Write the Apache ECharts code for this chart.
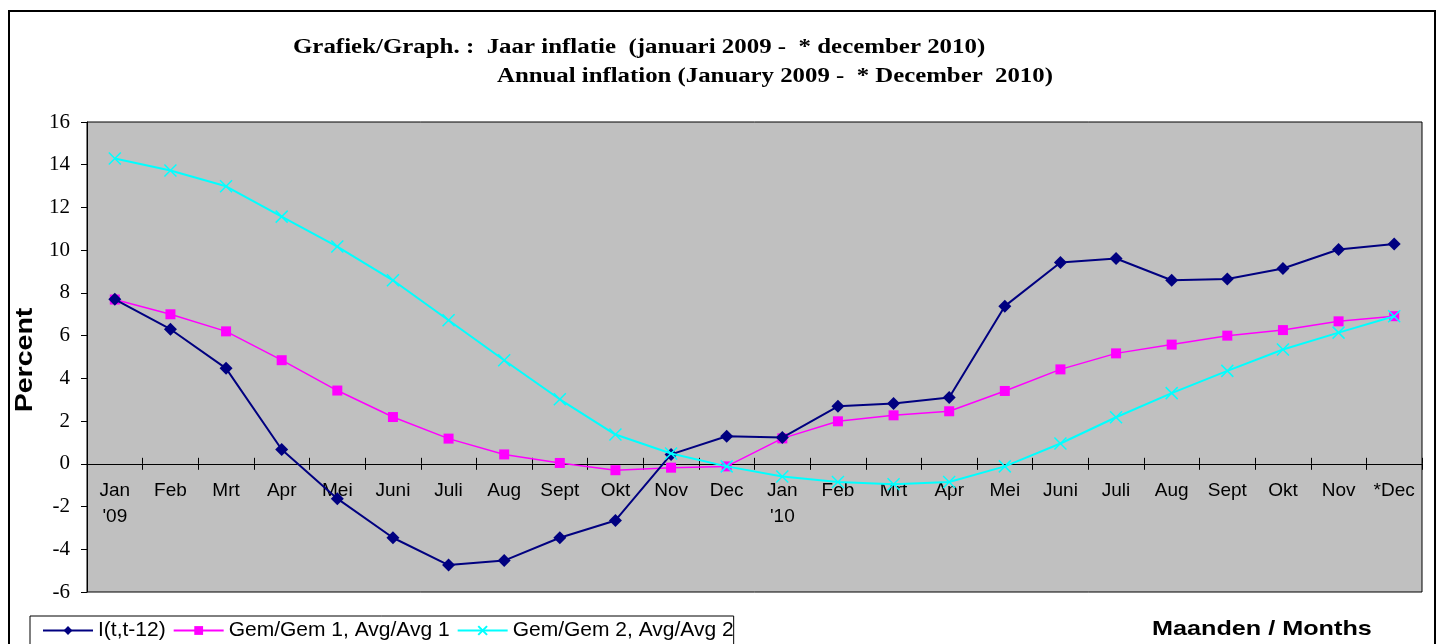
<!DOCTYPE html>
<html><head><meta charset="utf-8">
<script src="https://cdn.jsdelivr.net/npm/echarts@6/dist/echarts.min.js"></script>
<style>html,body{margin:0;padding:0;background:#fff}#c{width:1440px;height:644px}</style>
</head><body><div id="c"></div>
<script>
const categories = ["Jan\n'09","Feb","Mrt","Apr","Mei","Juni","Juli","Aug","Sept","Okt","Nov","Dec",
  "Jan\n'10","Feb","Mrt","Apr","Mei","Juni","Juli","Aug","Sept","Okt","Nov","*Dec"];
const seriesNames = ["I(t,t-12)", "Gem/Gem 1, Avg/Avg 1", "Gem/Gem 2, Avg/Avg 2"];
const inflation = [7.7, 6.3, 4.47, 0.67, -1.63, -3.46, -4.74, -4.53, -3.46, -2.65, 0.44, 1.29,
  1.23, 2.69, 2.82, 3.1, 7.38, 9.42, 9.61, 8.59, 8.65, 9.14, 10.03, 10.29];
const avg1 = [7.69, 7.0, 6.2, 4.85, 3.43, 2.19, 1.18, 0.44, 0.04, -0.3, -0.18, -0.12,
  1.19, 1.99, 2.27, 2.46, 3.41, 4.42, 5.17, 5.58, 6.0, 6.26, 6.67, 6.91];
const avg2 = [14.29, 13.73, 12.99, 11.57, 10.17, 8.59, 6.72, 4.85, 3.02, 1.37, 0.48, -0.12,
  -0.59, -0.85, -0.96, -0.85, -0.12, 0.95, 2.18, 3.31, 4.35, 5.35, 6.14, 6.91];
const yTicks = {min: -6, max: 16, interval: 2};
const titleLine1 = "Grafiek/Graph. :  Jaar inflatie  (januari 2009 -  * december 2010)";
const titleLine2 = "Annual inflation (January 2009 -  * December  2010)";
const yName = "Percent";
const xName = "Maanden / Months";

const gridTop = 122, gridBottom = 52, H = 644;
const gridHeight = H - gridTop - gridBottom;
// distance of the zero line above the bottom of the plot, from the y scale
const zeroOffset = -gridHeight * (0 - yTicks.min) / (yTicks.max - yTicks.min);

const chart = echarts.init(document.getElementById('c'), null, {renderer: 'canvas'});
const sans = '"Liberation Sans", Arial, sans-serif';
const serif = '"Liberation Serif", "Times New Roman", serif';
const xPath = 'path://M0,0 L10,10 M10,0 L0,10';
chart.setOption({
  animation: false,
  backgroundColor: '#fff',
  graphic: [
    {type: 'rect', shape: {x: 9, y: 11, width: 1426, height: 640}, style: {fill: 'none', stroke: '#000', lineWidth: 2}, z: -1},
    {type: 'text', x: 293, y: 48, scaleX: 1.245, style: {text: titleLine1, font: 'bold 20px ' + serif, fill: '#000', textAlign: 'left', textVerticalAlign: 'middle'}},
    {type: 'text', x: 497, y: 77, scaleX: 1.24, style: {text: titleLine2, font: 'bold 20px ' + serif, fill: '#000', textAlign: 'left', textVerticalAlign: 'middle'}},
    {type: 'text', x: 26, y: 360, rotation: Math.PI / 2, scaleX: 1.24, style: {text: yName, font: 'bold 23px ' + sans, fill: '#000', textAlign: 'center', textVerticalAlign: 'middle'}},
    {type: 'text', x: 1152, y: 629, scaleX: 1.2, style: {text: xName, font: 'bold 21px ' + sans, fill: '#000', textAlign: 'left', textVerticalAlign: 'middle'}}
  ],
  legend: {
    left: 30, top: 616, orient: 'horizontal',
    borderColor: '#000', borderWidth: 1, padding: [4, 0, 10, 12],
    itemWidth: 50, itemHeight: 11, itemGap: 7,
    textStyle: {fontFamily: 'Liberation Sans', fontSize: 21, color: '#000'},
    data: seriesNames
  },
  grid: {left: 87, right: 18, top: gridTop, bottom: gridBottom, outerBoundsMode: 'none', containLabel: false,
         show: true, backgroundColor: '#C0C0C0', borderColor: '#000', borderWidth: 1},
  xAxis: [
    {type: 'category', data: categories, position: 'bottom', offset: zeroOffset,
     axisLine: {onZero: false, lineStyle: {color: '#000', width: 1}},
     axisTick: {show: true, inside: false, length: 6, lineStyle: {color: '#000'}},
     axisLabel: {interval: 0, margin: 14, lineHeight: 26, fontFamily: 'Liberation Sans', fontSize: 19, color: '#000'},
     splitLine: {show: false}},
    {type: 'category', data: categories, position: 'top',
     axisLine: {onZero: true, onZeroAxisIndex: 0, lineStyle: {color: '#000', width: 1}},
     axisTick: {show: true, inside: false, length: 6, lineStyle: {color: '#000'}},
     axisLabel: {show: false}, splitLine: {show: false}}
  ],
  yAxis: {
    type: 'value', min: yTicks.min, max: yTicks.max, interval: yTicks.interval,
    axisLine: {show: true, lineStyle: {color: '#000'}},
    axisTick: {show: true, inside: false, length: 6, lineStyle: {color: '#000'}},
    axisLabel: {margin: 17, fontFamily: 'Liberation Serif', fontSize: 21, color: '#000'},
    splitLine: {show: false}
  },
  series: [
    {name: seriesNames[0], type: 'line', data: inflation, symbol: 'diamond', symbolSize: 13,
     lineStyle: {color: '#000080', width: 2}, itemStyle: {color: '#000080'}, z: 3},
    {name: seriesNames[1], type: 'line', data: avg1, symbol: 'rect', symbolSize: 10,
     lineStyle: {color: '#FF00FF', width: 1.5}, itemStyle: {color: '#FF00FF'}, z: 2},
    {name: seriesNames[2], type: 'line', data: avg2, symbol: xPath, symbolSize: 12,
     lineStyle: {color: '#00FFFF', width: 2},
     itemStyle: {color: '#00FFFF', borderColor: '#00FFFF', borderWidth: 1.5}, z: 4}
  ]
});
</script></body></html>
